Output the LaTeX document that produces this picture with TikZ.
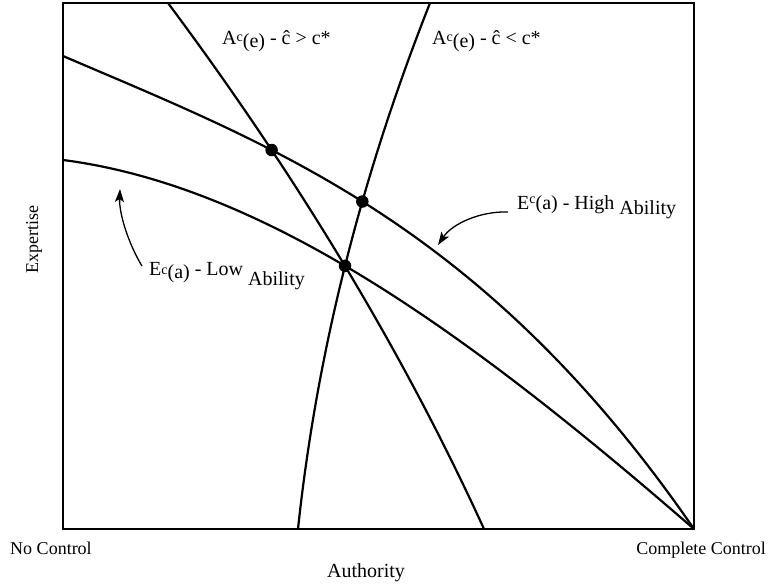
\documentclass[tikz,border=0pt]{standalone}
\usepackage{fontspec}
\setmainfont{Liberation Serif}
\usetikzlibrary{intersections,arrows.meta}

\newcommand{\supc}[1]{\raisebox{#1}{\fontsize{14}{14}\selectfont c}}

\tikzset{
    curve/.style={line width=2.2pt, line cap=round},
    dot/.style={circle, fill=black, inner sep=0pt, minimum size=12.5pt},
    pointer/.style={-{Stealth[length=13pt,width=9pt,inset=3pt]}, line width=1.3pt},
    curvelabel/.style={inner sep=0pt, font=\fontsize{20}{22}\selectfont},
    axislabel/.style={inner sep=0pt, font=\fontsize{18}{20}\selectfont}
}

\begin{document}
\begin{tikzpicture}[x=1pt, y=1pt]
    \useasboundingbox (0,0) rectangle (768,588);
    % frame
    \draw [line width=1.6pt] (63,59) rectangle (694,585);

    % expertise curves
    \draw [curve, name path=ehigh] plot [domain=0:1, samples=100]
        ({63+631*\x}, {532-473*(0.572*\x-0.079*\x*\x+0.507*\x*\x*\x)});
    \draw [curve, name path=elow] plot [domain=0:1, samples=100]
        ({63+631*\x}, {428-369*(0.22*\x+1.077*\x*\x-0.297*\x*\x*\x)});
    % authority curves
    \draw [curve, name path=agt] plot [domain=0:1, samples=100]
        ({168+316*(1.24*\x-0.24*\x*\x)}, {585-526*\x});
    \draw [curve, name path=alt] plot [domain=0:1, samples=100]
        ({430-132*(1.576*\x-0.576*\x*\x)}, {585-526*\x});

    % equilibrium points
    \path [name intersections={of=ehigh and agt, name=p}] (p-1) node [dot] (dotgt) {};
    \path [name intersections={of=ehigh and alt, name=q}] (q-1) node [dot] (dotlt) {};
    \path [name intersections={of=elow and alt, name=r}] (r-1) node [dot] (dotlow) {};

    % labels
    \path (222,543) node [curvelabel, anchor=base west] (agtlabel)
        {A\supc{.35ex}\raisebox{-.3ex}{(e)} - ĉ > c*};
    \path (432,543) node [curvelabel, anchor=base west] (altlabel)
        {A\supc{.35ex}\raisebox{-.3ex}{(e)} - ĉ < c*};
    \path (517,378) node [curvelabel, anchor=base west] (highlabel)
        {E\supc{.7ex}(a) - High \raisebox{-.25em}{Ability}};
    \path (149,312) node [curvelabel, anchor=base west] (lowlabel)
        {E\supc{.2ex}\raisebox{-.25ex}{(a)} - Low \raisebox{-.5em}{Ability}};

    \path (34,348) node [axislabel, rotate=90] (expertise) {Expertise};
    \path (51,33) node [axislabel, anchor=base] (nocontrol) {No Control};
    \path (701,33) node [axislabel, anchor=base] (complete) {Complete Control};
    \path (366,10) node [curvelabel, anchor=base] (authority) {Authority};

    % pointers
    \coordinate (lowtail) at (142,322);
    \coordinate (lowtip) at (120,399);
    \coordinate (hightail) at (508,376);
    \coordinate (hightip) at (438,343);
    \draw [pointer] (lowtail) .. controls (128,345) and (119,375) .. (lowtip);
    \draw [pointer] (hightail) .. controls (480,377) and (452,364) .. (hightip);
\end{tikzpicture}
\end{document}
